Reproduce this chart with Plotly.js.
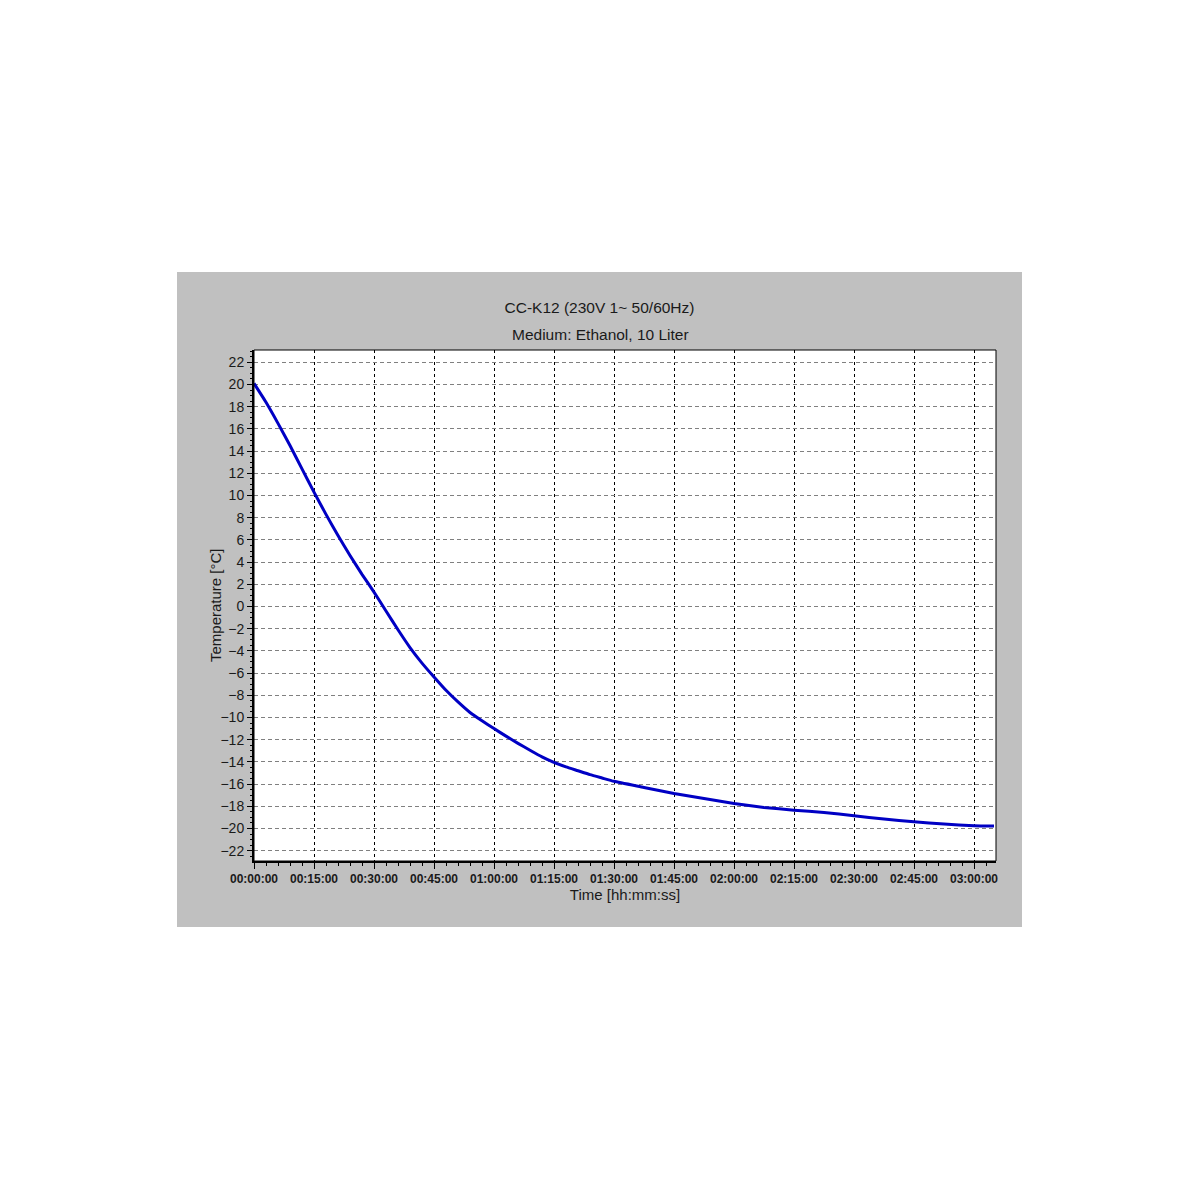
<!DOCTYPE html>
<html>
<head>
<meta charset="utf-8">
<script src="https://cdn.plot.ly/plotly-3.0.1.min.js"></script>
<style>
  html, body { margin: 0; padding: 0; background: #ffffff; width: 1200px; height: 1200px; overflow: hidden; }
  #chart { position: absolute; left: 177px; top: 272px; width: 845px; height: 655px; }
</style>
</head>
<body>
<div id="chart"></div>
<script>
// Time in minutes since start
const timeMin = [0, 3, 6, 9, 12, 15, 18, 21, 24, 27, 30, 33, 36, 39, 42, 45, 48, 51, 54, 57, 60,
                 63, 66, 69, 72, 75, 78, 81, 84, 87, 90, 97.5, 105, 112.5, 120, 127.5, 135, 142.5,
                 150, 157.5, 165, 172.5, 180, 185];
// Temperature in °C
const tempC = [20.1, 18.4, 16.5, 14.5, 12.4, 10.3, 8.3, 6.4, 4.6, 2.9, 1.3, -0.4, -2.1, -3.7, -5.1, -6.35, -7.55, -8.6, -9.55, -10.3, -11.0,
               -11.68, -12.33, -12.95, -13.55, -14.05, -14.45, -14.8, -15.15, -15.45, -15.75, -16.3, -16.85, -17.3, -17.75, -18.1, -18.35, -18.55,
               -18.85, -19.15, -19.4, -19.6, -19.75, -19.78];

const xTickVals = [0, 15, 30, 45, 60, 75, 90, 105, 120, 135, 150, 165, 180];
const xTickText = ["00:00:00", "00:15:00", "00:30:00", "00:45:00", "01:00:00", "01:15:00", "01:30:00",
                   "01:45:00", "02:00:00", "02:15:00", "02:30:00", "02:45:00", "03:00:00"];
const yTickVals = [22, 20, 18, 16, 14, 12, 10, 8, 6, 4, 2, 0, -2, -4, -6, -8, -10, -12, -14, -16, -18, -20, -22];

const titleLine1 = "CC-K12 (230V 1~ 50/60Hz)";
const titleLine2 = "Medium: Ethanol, 10 Liter";
const xTitle = "Time [hh:mm:ss]";
const yTitle = "Temperature [°C]";

const FONT = "Liberation Sans, Arial, sans-serif";

const trace = {
  x: timeMin,
  y: tempC,
  type: "scatter",
  mode: "lines",
  line: { color: "#0000c4", width: 3, shape: "spline", smoothing: 0.5 },
  hoverinfo: "skip"
};

const layout = {
  width: 845,
  height: 655,
  margin: { l: 77, r: 26, t: 78, b: 66, pad: 0 },
  paper_bgcolor: "#c0c0c0",
  plot_bgcolor: "#ffffff",
  showlegend: false,
  font: { family: FONT, color: "#1a1a1a" },
  title: {
    text: titleLine1,
    x: 0.5, xref: "container", xanchor: "center",
    y: 1 - 36 / 655, yref: "container", yanchor: "middle",
    font: { family: FONT, size: 15.5, color: "#1a1a1a" }
  },
  annotations: [{
    text: titleLine2,
    xref: "paper", yref: "paper",
    x: (600 - 254) / 742, y: (861 - 334) / 511,
    xanchor: "center", yanchor: "middle",
    showarrow: false,
    font: { family: FONT, size: 15.5, color: "#1a1a1a" }
  }, {
    text: yTitle,
    xref: "paper", yref: "paper",
    x: (215 - 254) / 742, y: (861 - 605) / 511,
    xanchor: "center", yanchor: "middle",
    textangle: -90,
    showarrow: false,
    font: { family: FONT, size: 15, color: "#1a1a1a" }
  }],
  xaxis: {
    range: [0, 185.5],
    tickmode: "array",
    tickvals: xTickVals,
    ticktext: xTickText,
    ticks: "outside",
    ticklen: 6,
    tickwidth: 1,
    tickcolor: "#000000",
    tickfont: { family: FONT, size: 12, color: "#1a1a1a", weight: "bold" },
    showline: true,
    linecolor: "#000000",
    linewidth: 2,
    mirror: false,
    zeroline: false,
    showgrid: true,
    gridcolor: "#000000",
    gridwidth: 1,
    griddash: "3px,3px",
    minor: { dtick: 3, ticks: "outside", ticklen: 3, tickcolor: "#000000", showgrid: false },
    title: { text: xTitle, standoff: 2, font: { family: FONT, size: 15, color: "#1a1a1a" } },
    fixedrange: true
  },
  yaxis: {
    range: [-22.93, 23.11],
    tickmode: "array",
    tickvals: yTickVals,
    ticks: "outside",
    ticklen: 5,
    tickwidth: 1,
    tickcolor: "#000000",
    tickfont: { family: FONT, size: 14, color: "#1a1a1a" },
    showline: true,
    linecolor: "#000000",
    linewidth: 2,
    mirror: false,
    zeroline: false,
    showgrid: true,
    gridcolor: "#808080",
    gridwidth: 1,
    griddash: "4px,3px",
    minor: { dtick: 0.5, ticks: "outside", ticklen: 2, tickcolor: "#000000", showgrid: false },
    fixedrange: true
  },
  shapes: [{
    type: "rect", xref: "paper", yref: "paper",
    x0: 0, x1: 1, y0: 0, y1: 1,
    line: { color: "#000000", width: 1 },
    fillcolor: "rgba(0,0,0,0)",
    layer: "above"
  }]
};

Plotly.newPlot("chart", [trace], layout, { staticPlot: true, displayModeBar: false });
</script>
</body>
</html>
